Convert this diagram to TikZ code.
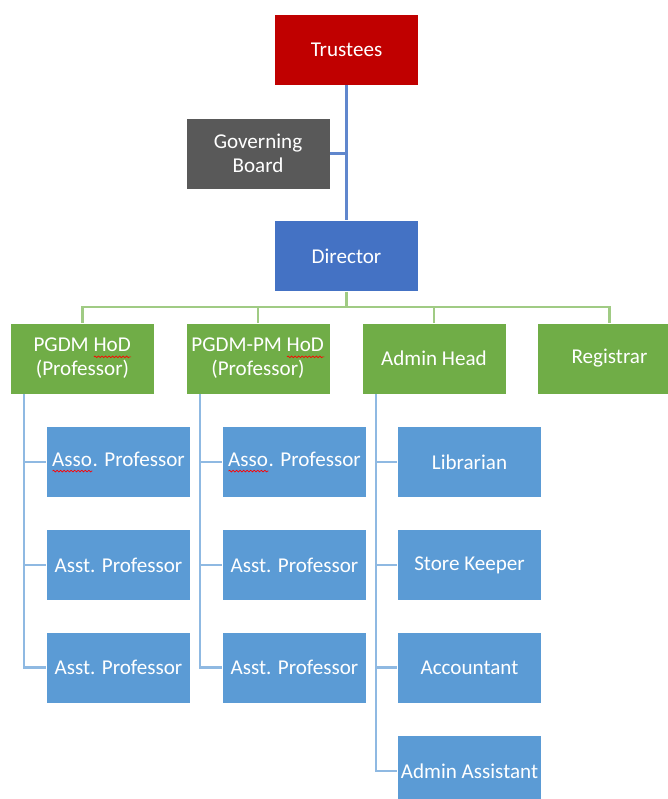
\documentclass[tikz,border=0pt]{standalone}
\usepackage{fontspec}
\setmainfont{Carlito}
\usetikzlibrary{decorations.pathmorphing}

\newlength{\spellw}
\newcommand{\spellerr}[1]{\settowidth{\spellw}{#1}\rlap{#1}\tikz[baseline=0pt]\draw[red, line width=0.5pt,
  decorate, decoration={snake, amplitude=0.6pt, segment length=2.5pt}] (0pt,-3.5pt) -- (\spellw,-3.5pt);}

\definecolor{trustred}{HTML}{C00000}
\definecolor{boardgrey}{HTML}{595959}
\definecolor{dirblue}{HTML}{4472C4}
\definecolor{deptgreen}{HTML}{70AD47}
\definecolor{staffblue}{HTML}{5B9BD5}
\definecolor{linkgreen}{HTML}{A0CB84}
\definecolor{linkblue}{HTML}{8FB9E2}

\begin{document}
\begin{tikzpicture}[x=0.025cm, y=-0.025cm,
  every node/.style={draw=white, line width=0.4pt, minimum width=3.6cm, minimum height=1.775cm,
    inner sep=0pt, align=center, text=white, font=\fontsize{15}{17}\selectfont},
  redbox/.style={fill=trustred},
  greybox/.style={fill=boardgrey},
  dirbox/.style={fill=dirblue},
  deptbox/.style={fill=deptgreen},
  staffbox/.style={fill=staffblue},
  bluelink/.style={draw=dirblue!85, line width=1.7pt},
  greenlink/.style={draw=linkgreen, line width=1.7pt},
  stafflink/.style={draw=linkblue, line width=1.7pt}]

\clip (0,0) rectangle (668,799);

\node[redbox] (trustees) at (346.5,49.5) {Trustees};
\node[greybox] (board) at (258,153.5) {Governing\\Board};
\node[dirbox] (director) at (346.5,256) {Director};

\node[deptbox] (pgdm) at (82.5,358.5) {PGDM \spellerr{HoD}\\(Professor)};
\node[deptbox] (pgdmpm) at (258,358.5) {PGDM-PM \spellerr{HoD}\\(Professor)};
\node[deptbox] (admin) at (434,358.5) {Admin Head};
\node[deptbox] (registrar) at (609.5,358.5) {Registrar};

\node[staffbox] (asso1) at (118.5,462) {\spellerr{Asso}. Professor};
\node[staffbox] (asst1a) at (118.5,565) {Asst. Professor};
\node[staffbox] (asst1b) at (118.5,667.5) {Asst. Professor};

\node[staffbox] (asso2) at (294.5,462) {\spellerr{Asso}. Professor};
\node[staffbox] (asst2a) at (294.5,565) {Asst. Professor};
\node[staffbox] (asst2b) at (294.5,667.5) {Asst. Professor};

\node[staffbox] (librarian) at (469.5,462) {Librarian};
\node[staffbox] (store) at (469.5,565) {Store Keeper};
\node[staffbox] (accountant) at (469.5,667.5) {Accountant};
\node[staffbox] (assistant) at (469.5,771) {Admin Assistant};

\coordinate (bus) at (346.5,307);

\draw[bluelink] (trustees) -- (director);
\draw[bluelink] (board) -- (board -| trustees);

\draw[greenlink] (director) -- (bus);
\draw[greenlink] (bus) -| (pgdm);
\draw[greenlink] (bus) -| (pgdmpm);
\draw[greenlink] (bus) -| (admin);
\draw[greenlink] (bus) -| (registrar);

\draw[stafflink] ([xshift=0.35cm]pgdm.south west) |- (asso1);
\draw[stafflink] ([xshift=0.35cm]pgdm.south west) |- (asst1a);
\draw[stafflink] ([xshift=0.35cm]pgdm.south west) |- (asst1b);

\draw[stafflink] ([xshift=0.35cm]pgdmpm.south west) |- (asso2);
\draw[stafflink] ([xshift=0.35cm]pgdmpm.south west) |- (asst2a);
\draw[stafflink] ([xshift=0.35cm]pgdmpm.south west) |- (asst2b);

\draw[stafflink] ([xshift=0.35cm]admin.south west) |- (librarian);
\draw[stafflink] ([xshift=0.35cm]admin.south west) |- (store);
\draw[stafflink] ([xshift=0.35cm]admin.south west) |- (accountant);
\draw[stafflink] ([xshift=0.35cm]admin.south west) |- (assistant);
\end{tikzpicture}
\end{document}
